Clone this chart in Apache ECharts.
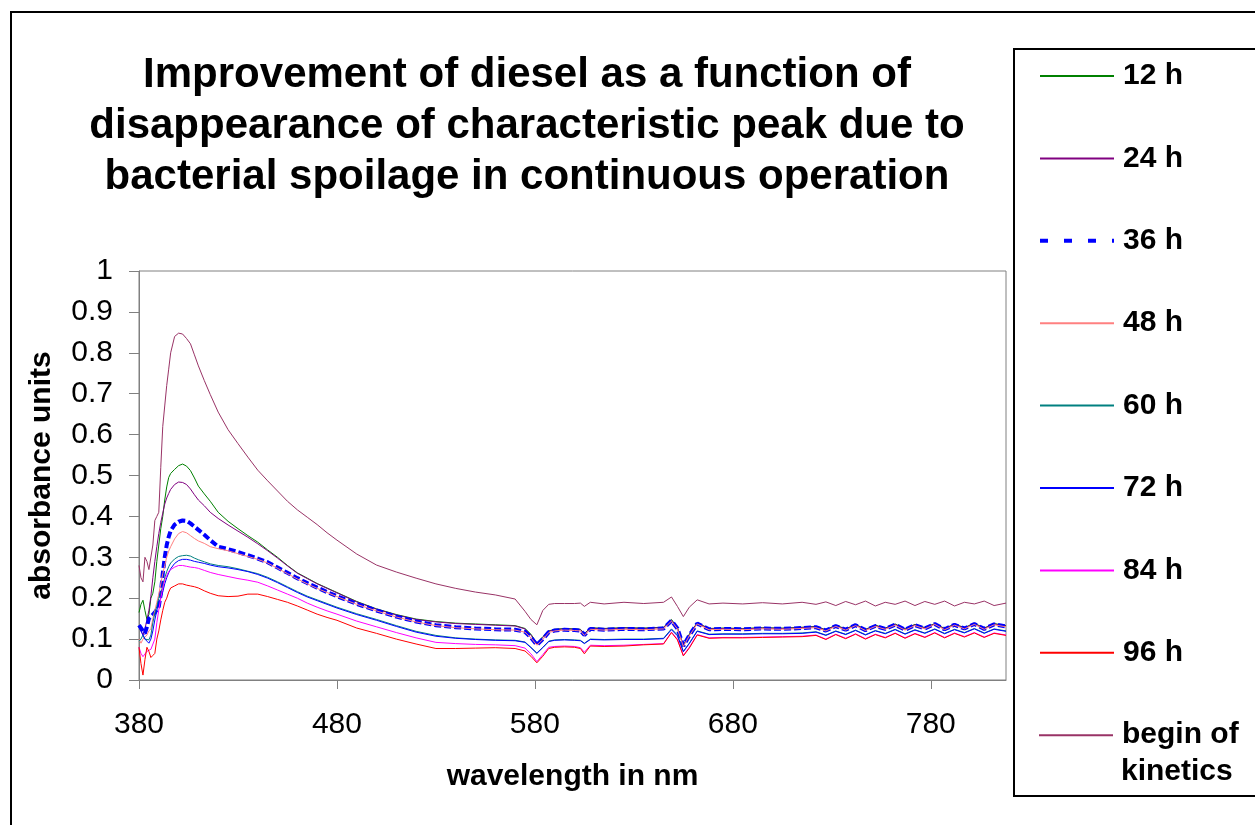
<!DOCTYPE html>
<html>
<head>
<meta charset="utf-8">
<script src="https://cdn.jsdelivr.net/npm/echarts@6/dist/echarts.min.js"></script>
<style>
html,body{margin:0;padding:0;background:#fff;}
#chart{width:1255px;height:825px;}
</style>
</head>
<body>
<div id="chart"></div>
<script>
// wavelength (nm)
const wavelengths = [380,381,382,383,384,385,386,387,388,389,390,391,392,393,394,395,396,398,400,402,404,406,408,410,413,416,420,425,430,435,440,445,450,455,460,465,470,475,480,490,500,510,520,530,540,550,560,570,575,578,581,584,587,590,595,600,603,605,608,615,625,635,645,649,652,655,658,662,668,675,685,695,705,715,722,727,732,737,742,747,752,757,762,767,772,777,782,787,792,797,802,807,812,818];

const h12 = [0.165,0.185,0.195,0.17,0.148,0.16,0.2,0.212,0.24,0.29,0.33,0.37,0.40,0.44,0.472,0.495,0.505,0.515,0.524,0.528,0.523,0.512,0.494,0.474,0.455,0.437,0.41,0.388,0.37,0.353,0.337,0.318,0.3,0.28,0.262,0.249,0.236,0.225,0.214,0.192,0.174,0.16,0.149,0.143,0.139,0.137,0.135,0.133,0.126,0.112,0.09,0.106,0.12,0.124,0.126,0.125,0.124,0.113,0.128,0.126,0.128,0.127,0.129,0.148,0.128,0.085,0.112,0.14,0.126,0.127,0.126,0.128,0.127,0.129,0.131,0.123,0.134,0.125,0.136,0.124,0.134,0.127,0.137,0.125,0.136,0.128,0.138,0.126,0.137,0.128,0.139,0.127,0.138,0.133];

const h24 = [0.13,0.12,0.11,0.125,0.147,0.17,0.205,0.25,0.29,0.326,0.358,0.385,0.408,0.43,0.445,0.456,0.466,0.478,0.484,0.483,0.478,0.467,0.453,0.44,0.426,0.41,0.395,0.379,0.364,0.349,0.333,0.316,0.298,0.279,0.261,0.248,0.235,0.224,0.213,0.191,0.173,0.159,0.148,0.142,0.138,0.136,0.134,0.132,0.125,0.11,0.088,0.104,0.119,0.123,0.125,0.124,0.123,0.112,0.127,0.125,0.127,0.126,0.128,0.146,0.127,0.084,0.11,0.139,0.125,0.126,0.125,0.127,0.126,0.128,0.13,0.122,0.133,0.124,0.135,0.123,0.133,0.126,0.136,0.124,0.135,0.127,0.137,0.125,0.136,0.127,0.138,0.126,0.137,0.132];

const h36 = [0.134,0.134,0.12,0.114,0.13,0.15,0.155,0.16,0.165,0.172,0.18,0.21,0.26,0.3,0.33,0.35,0.365,0.38,0.387,0.39,0.389,0.383,0.375,0.367,0.355,0.342,0.326,0.32,0.313,0.305,0.297,0.288,0.275,0.262,0.249,0.237,0.226,0.215,0.205,0.186,0.17,0.155,0.143,0.134,0.129,0.126,0.124,0.123,0.118,0.104,0.086,0.1,0.117,0.121,0.123,0.122,0.121,0.11,0.125,0.123,0.125,0.124,0.126,0.145,0.126,0.083,0.109,0.138,0.124,0.125,0.124,0.126,0.125,0.127,0.129,0.121,0.132,0.123,0.134,0.122,0.132,0.125,0.135,0.123,0.134,0.126,0.137,0.124,0.135,0.126,0.137,0.125,0.136,0.131];

const h48 = [0.1,0.09,0.1,0.098,0.11,0.12,0.125,0.15,0.17,0.19,0.21,0.235,0.26,0.28,0.3,0.315,0.326,0.345,0.358,0.363,0.36,0.353,0.346,0.34,0.334,0.326,0.321,0.316,0.309,0.302,0.295,0.286,0.273,0.26,0.247,0.235,0.224,0.214,0.204,0.185,0.169,0.154,0.142,0.133,0.128,0.125,0.123,0.122,0.117,0.103,0.085,0.099,0.116,0.12,0.122,0.121,0.12,0.109,0.124,0.122,0.124,0.123,0.125,0.144,0.125,0.082,0.108,0.137,0.123,0.124,0.123,0.125,0.124,0.126,0.128,0.12,0.131,0.122,0.133,0.121,0.131,0.124,0.134,0.122,0.133,0.125,0.136,0.123,0.134,0.125,0.136,0.124,0.135,0.13];

const h60 = [0.095,0.1,0.11,0.1,0.098,0.098,0.11,0.14,0.163,0.18,0.2,0.212,0.23,0.25,0.265,0.277,0.286,0.296,0.302,0.304,0.305,0.303,0.298,0.294,0.289,0.284,0.28,0.277,0.272,0.266,0.26,0.251,0.24,0.228,0.216,0.205,0.196,0.187,0.178,0.162,0.148,0.133,0.119,0.109,0.103,0.1,0.098,0.097,0.093,0.08,0.066,0.08,0.095,0.098,0.099,0.098,0.097,0.09,0.1,0.099,0.1,0.1,0.102,0.125,0.11,0.07,0.09,0.12,0.112,0.113,0.113,0.114,0.114,0.115,0.118,0.11,0.12,0.112,0.122,0.111,0.121,0.114,0.124,0.113,0.123,0.115,0.125,0.114,0.124,0.116,0.126,0.115,0.125,0.12];

const h72 = [0.13,0.12,0.11,0.1,0.095,0.09,0.1,0.12,0.147,0.17,0.19,0.2,0.215,0.235,0.25,0.262,0.272,0.285,0.292,0.295,0.295,0.293,0.29,0.288,0.285,0.281,0.277,0.274,0.27,0.265,0.258,0.249,0.238,0.226,0.214,0.203,0.194,0.185,0.176,0.16,0.146,0.131,0.117,0.107,0.102,0.099,0.097,0.096,0.092,0.079,0.065,0.079,0.094,0.097,0.098,0.097,0.096,0.089,0.099,0.098,0.099,0.099,0.101,0.123,0.108,0.069,0.089,0.119,0.111,0.112,0.112,0.113,0.113,0.114,0.117,0.109,0.119,0.111,0.121,0.11,0.12,0.113,0.123,0.112,0.122,0.114,0.124,0.113,0.123,0.115,0.125,0.114,0.124,0.119];

const h84 = [0.08,0.065,0.057,0.06,0.07,0.07,0.075,0.077,0.1,0.14,0.171,0.2,0.225,0.245,0.255,0.265,0.27,0.276,0.28,0.28,0.278,0.276,0.275,0.273,0.268,0.263,0.258,0.253,0.248,0.244,0.239,0.23,0.22,0.21,0.2,0.188,0.178,0.169,0.161,0.144,0.13,0.116,0.103,0.092,0.089,0.087,0.086,0.084,0.078,0.064,0.045,0.062,0.08,0.082,0.083,0.082,0.079,0.068,0.085,0.084,0.085,0.087,0.089,0.117,0.1,0.06,0.08,0.111,0.103,0.104,0.104,0.105,0.106,0.107,0.11,0.1,0.112,0.102,0.113,0.101,0.112,0.104,0.115,0.103,0.114,0.105,0.116,0.104,0.115,0.106,0.116,0.105,0.115,0.11];

const h96 = [0.08,0.04,0.012,0.05,0.08,0.07,0.055,0.06,0.065,0.1,0.12,0.147,0.17,0.19,0.2,0.215,0.225,0.23,0.235,0.235,0.232,0.23,0.228,0.225,0.218,0.212,0.206,0.204,0.205,0.21,0.21,0.204,0.197,0.19,0.181,0.171,0.161,0.153,0.146,0.127,0.114,0.1,0.088,0.077,0.077,0.078,0.079,0.077,0.071,0.058,0.042,0.058,0.077,0.08,0.081,0.08,0.077,0.064,0.083,0.082,0.083,0.086,0.088,0.116,0.098,0.059,0.078,0.11,0.102,0.103,0.103,0.104,0.105,0.106,0.109,0.099,0.111,0.101,0.112,0.1,0.111,0.103,0.114,0.102,0.113,0.104,0.115,0.103,0.114,0.105,0.115,0.104,0.114,0.109];

const beginKinetics = [0.28,0.25,0.24,0.30,0.29,0.27,0.27,0.33,0.39,0.40,0.41,0.52,0.62,0.67,0.72,0.76,0.80,0.84,0.848,0.846,0.835,0.822,0.795,0.768,0.732,0.698,0.655,0.612,0.578,0.545,0.513,0.487,0.462,0.437,0.416,0.398,0.38,0.36,0.342,0.308,0.281,0.264,0.249,0.235,0.224,0.215,0.208,0.198,0.168,0.148,0.135,0.17,0.185,0.187,0.187,0.187,0.188,0.18,0.19,0.186,0.19,0.187,0.19,0.203,0.18,0.155,0.178,0.196,0.186,0.188,0.186,0.189,0.186,0.19,0.185,0.191,0.182,0.192,0.184,0.193,0.181,0.19,0.185,0.193,0.182,0.192,0.185,0.193,0.181,0.19,0.186,0.193,0.182,0.188];

const seriesNames = ['12 h','24 h','36 h','48 h','60 h','72 h','84 h','96 h','begin of kinetics'];
const seriesValues = [h12,h24,h36,h48,h60,h72,h84,h96,beginKinetics];
const seriesColors = ['#008000','#800080','#0000FF','#FF8080','#008080','#0000FF','#FF00FF','#FF0000','#993366'];
const xTicks = [380,480,580,680,780];

const FONT = "'Liberation Sans', Arial, sans-serif";

const series = seriesNames.map(function(name, i){
  const vals = seriesValues[i];
  const isDashed = name === '36 h';
  return {
    name: name,
    type: 'line',
    symbol: 'none',
    showSymbol: false,
    animation: false,
    data: wavelengths.map(function(w, k){ return [w, vals[k]]; }),
    lineStyle: {
      color: seriesColors[i],
      width: isDashed ? 4 : 1,
      type: isDashed ? [7, 3] : 'solid'
    },
    itemStyle: { color: seriesColors[i] },
    emphasis: { disabled: true }
  };
});

const legendText = {fontFamily: FONT, fontWeight: 'bold', fontSize: 30, color: '#000', lineHeight: 30, padding: [0,0,0,4]};

const chart = echarts.init(document.getElementById('chart'), null, {renderer: 'canvas'});
chart.setOption({
  animation: false,
  backgroundColor: '#fff',
  title: {
    text: 'Improvement of diesel as a function of\ndisappearance of characteristic peak due to\nbacterial spoilage in continuous operation',
    left: 522,
    top: 45,
    textAlign: 'center',
    textStyle: {fontFamily: FONT, fontWeight: 'bold', fontSize: 42, lineHeight: 51, color: '#000'}
  },
  grid: {
    left: 139, right: 249, top: 271, bottom: 145,
    show: true, borderColor: '#808080', borderWidth: 1,
    outerBoundsMode: 'none'
  },
  legend: [{
    orient: 'vertical',
    left: 1038, top: 61,
    padding: 0,
    itemWidth: 74, itemHeight: 14,
    itemGap: 52.4,
    selectedMode: false,
    itemStyle: {opacity: 0},
    textStyle: legendText,
    data: seriesNames.slice(0, 8).map(function(n){
      if (n === '36 h') {
        return {name: n, lineStyle: {type: [8, 16], width: 4, color: '#0000FF'}};
      }
      return {name: n};
    })
  }, {
    orient: 'vertical',
    left: 1038, top: 61 + 8 * 82.4,
    padding: 0,
    itemWidth: 74, itemHeight: 14,
    selectedMode: false,
    itemStyle: {opacity: 0},
    textStyle: legendText,
    formatter: function(){ return 'begin of'; },
    data: ['begin of kinetics']
  }],
  graphic: [
    {type: 'rect', silent: true, shape: {x: 11, y: 12, width: 1270, height: 830}, style: {fill: 'none', stroke: '#000', lineWidth: 2}},
    {type: 'rect', silent: true, shape: {x: 1014, y: 49, width: 260, height: 747}, style: {fill: 'none', stroke: '#000', lineWidth: 2}},
    {type: 'text', silent: true, left: 1121, top: 757, style: {text: 'kinetics', fill: '#000', font: 'bold 30px ' + FONT}}
  ],
  xAxis: {
    type: 'value',
    min: 380, max: 818,
    name: 'wavelength in nm',
    nameLocation: 'middle',
    nameGap: 82,
    nameTextStyle: {fontFamily: FONT, fontWeight: 'bold', fontSize: 30, color: '#000'},
    axisLine: {show: true, onZero: false, lineStyle: {color: '#808080', width: 1}},
    axisTick: {show: true, length: 9, inside: false, customValues: xTicks, lineStyle: {color: '#808080'}},
    axisLabel: {fontFamily: FONT, fontSize: 30, color: '#000', margin: 30, customValues: xTicks},
    splitLine: {show: false}
  },
  yAxis: {
    type: 'value',
    min: 0, max: 1, interval: 0.1,
    name: 'absorbance units',
    nameLocation: 'middle',
    nameGap: 82,
    nameTextStyle: {fontFamily: FONT, fontWeight: 'bold', fontSize: 30, color: '#000'},
    axisLine: {show: true, lineStyle: {color: '#808080', width: 1}},
    axisTick: {show: true, length: 10, inside: false, lineStyle: {color: '#808080'}},
    axisLabel: {fontFamily: FONT, fontSize: 30, color: '#000', margin: 26},
    splitLine: {show: false}
  },
  series: series
});
</script>
</body>
</html>
